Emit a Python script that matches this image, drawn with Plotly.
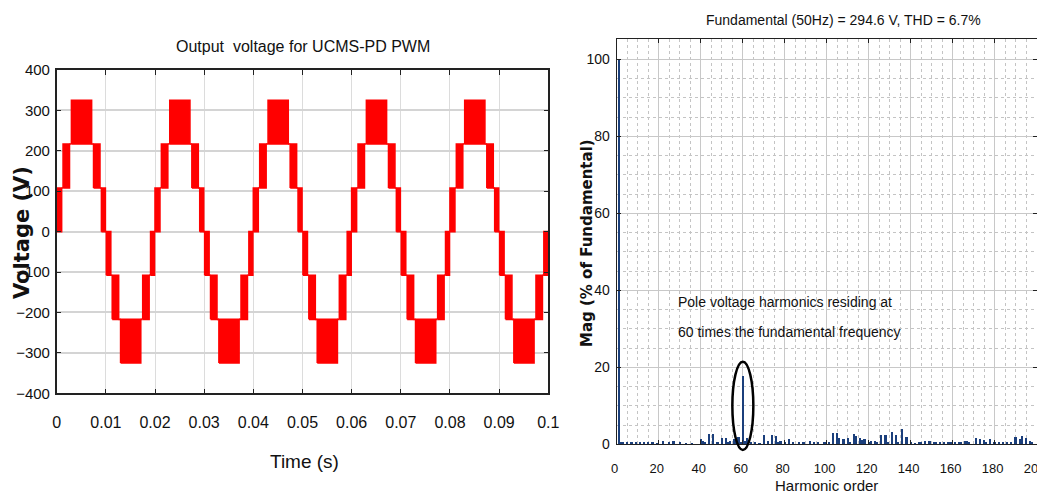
import plotly.graph_objects as go

# ---------------- data: left panel (one period of the output voltage)
seg_start = [0.0000, 0.0010, 0.0013, 0.0026, 0.0030, 0.0071, 0.0075, 0.0088, 0.0091, 0.0099,
             0.0101, 0.0110, 0.0113, 0.0126, 0.0130, 0.0171, 0.0175, 0.0188, 0.0191, 0.0199]
seg_end = [0.0010, 0.0013, 0.0026, 0.0030, 0.0071, 0.0075, 0.0088, 0.0091, 0.0099, 0.0101,
           0.0110, 0.0113, 0.0126, 0.0130, 0.0171, 0.0175, 0.0188, 0.0191, 0.0199, 0.0200]
seg_low = [0, 108, 108, 217, 217, 217, 108, 108, 0, 0,
           -108, -108, -217, -217, -325, -217, -217, -108, -108, 0]
seg_high = [108, 108, 217, 217, 325, 217, 217, 108, 108, 0,
            0, -108, -108, -217, -217, -217, -108, -108, 0, 0]
cycle_start = [0.00, 0.02, 0.04, 0.06, 0.08]

time_ticks = [0, 0.01, 0.02, 0.03, 0.04, 0.05, 0.06, 0.07, 0.08, 0.09, 0.1]
time_labels = ["0", "0.01", "0.02", "0.03", "0.04", "0.05", "0.06", "0.07", "0.08", "0.09", "0.1"]
volt_ticks = [-400, -300, -200, -100, 0, 100, 200, 300, 400]

# ---------------- data: right panel (harmonic spectrum, % of fundamental)
harm_order = [1, 2, 3, 5, 7, 9, 11, 13, 15, 17, 19, 22, 25, 27, 30, 33, 36,
              40, 41, 42, 44, 46, 48, 50, 52, 53, 54, 56, 57, 58, 59, 60,
              61, 62, 64, 66, 68, 70, 72, 74, 76, 77, 78, 80, 82, 84, 87, 89, 92, 94, 96, 99, 101,
              103, 105, 106, 108, 110, 111, 113, 114, 116, 117, 118, 120, 121, 123, 124, 126, 128,
              129, 131, 133, 134, 136, 138,
              140, 142, 144, 145, 147, 149, 151, 152, 154, 156, 158, 159, 161, 163, 164, 166, 167,
              168, 171, 173, 175, 176, 178, 180, 182, 184, 186, 188, 190, 192, 193, 195, 197, 198]
harm_mag = [100, 0.3, 0.4, 0.3, 0.5, 0.4, 0.4, 0.3, 0.4, 0.3, 0.2, 0.8, 0.3, 0.8, 0.3, 0.2, 0.2,
            1.2, 0.8, 0.6, 2.5, 2.7, 0.3, 1.6, 1.5, 0.6, 0.8, 1.2, 1.5, 1.8, 0.6, 17.6,
            0.8, 1.6, 0.6, 0.3, 0.2, 2.3, 0.9, 2.3, 2.1, 0.6, 0.8, 0.5, 1.2, 0.3, 0.5, 0.3, 0.9, 0.3, 0.3, 0.4, 0.3,
            2.9, 2.8, 1.6, 1.4, 1.5, 0.6, 2.5, 2.0, 1.6, 1.0, 1.2, 0.3, 0.7, 0.8, 0.4, 2.4, 2.3,
            0.5, 3.0, 2.4, 0.5, 3.8, 1.8,
            0.3, 0.2, 0.3, 0.5, 0.8, 0.8, 0.5, 0.6, 0.6, 0.3, 0.6, 0.6, 0.4, 0.4, 0.5, 0.7, 0.8,
            0.6, 1.5, 1.2, 1.0, 0.6, 1.3, 0.3, 0.3, 0.4, 0.3, 0.3, 1.8, 1.2, 2.0, 1.6, 0.9, 0.3]
harm_ticks = [0, 20, 40, 60, 80, 100, 120, 140, 160, 180, 200]
mag_ticks = [0, 20, 40, 60, 80, 100]

NARROW = "Liberation Sans, Arial, sans-serif"
BOLD = "DejaVu Sans, Arial, sans-serif"

# page places the figure 8px in from the top-left corner
OFF = 8
W, H = 1045 - OFF, 497 - OFF


def px(X):
    return (X - OFF) / W


def py(Y):
    return 1 - (Y - OFF) / H


# build the PWM band path from the segments
wx, wy = [], []
for c in cycle_start:
    for t0, t1, lo, hi in zip(seg_start, seg_end, seg_low, seg_high):
        if lo == hi:
            wx += [c + t0, c + t1, None]
            wy += [lo, lo, None]
        else:
            wx += [c + t0, c + t0, c + t1, c + t1, c + t0, None]
            wy += [lo, hi, hi, lo, lo, None]

fig = go.Figure()
fig.add_trace(go.Scatter(x=wx, y=wy, mode="lines", fill="toself", fillcolor="#ff0000",
                         line=dict(color="#ff0000", width=1.6), xaxis="x", yaxis="y",
                         showlegend=False, hoverinfo="skip"))
fig.add_trace(go.Bar(x=harm_order, y=harm_mag, width=0.8, marker=dict(color="#1b3f7c", line=dict(width=0)),
                     xaxis="x2", yaxis="y2", showlegend=False))

common = dict(automargin=False, ticks="inside", tickcolor="#222", mirror="ticks",
              showline=True, linecolor="#222", zeroline=False, showgrid=True,
              ticklabeloverflow="allow")

fig.update_layout(
    width=W, height=H, margin=dict(l=0, r=0, t=0, b=0, pad=0), autosize=False,
    paper_bgcolor="white", plot_bgcolor="white", bargap=0,
    xaxis=dict(domain=[px(56.7), px(548.3)], range=[0, 0.1], anchor="y",
               tickmode="array", tickvals=time_ticks, ticktext=time_labels,
               ticklen=5, linewidth=1.5, gridcolor="#dcdcdc", gridwidth=1,
               tickfont=dict(family=NARROW, size=16, color="#111"), ticklabelstandoff=14, **common),
    yaxis=dict(domain=[py(393.3), py(70)], range=[-400, 400], anchor="x",
               tickmode="array", tickvals=volt_ticks,
               ticklen=5, linewidth=1.5, gridcolor="#d4d4d4", gridwidth=2,
               tickfont=dict(family=NARROW, size=15, color="#111"), ticklabelstandoff=2, **common),
    xaxis2=dict(domain=[px(616.7), px(1036.5)], range=[0, 200], anchor="y2",
                tickmode="array", tickvals=harm_ticks,
                ticklen=4, linewidth=1, gridcolor="#c8c8c8", gridwidth=1,
                minor=dict(dtick=5, showgrid=True, griddash="dot", gridcolor="#c4c4c4", gridwidth=1),
                tickfont=dict(family=NARROW, size=13, color="#111"), ticklabelstandoff=12,
                ticklabelshift=-2, **common),
    yaxis2=dict(domain=[py(444.3), py(39.3)], range=[0, 105.2], anchor="x2",
                tickmode="array", tickvals=mag_ticks,
                ticklen=4, linewidth=1, gridcolor="#c8c8c8", gridwidth=1,
                minor=dict(dtick=5, showgrid=True, griddash="dot", gridcolor="#c4c4c4", gridwidth=1),
                tickfont=dict(family=NARROW, size=14, color="#111"), ticklabelstandoff=3, **common),
)

ann = [
    dict(text="Output  voltage for UCMS-PD PWM", x=px(303), y=py(46),
         font=dict(family=NARROW, size=16, color="#111")),
    dict(text="Time (s)", x=px(304), y=py(461),
         font=dict(family=NARROW, size=19, color="#111")),
    dict(text="<b>Voltage (V)</b>", x=px(22), y=py(233), textangle=-90,
         font=dict(family=BOLD, size=21, color="#111")),
    dict(text="Fundamental (50Hz) = 294.6 V, THD = 6.7%", x=px(843), y=py(20),
         font=dict(family=NARROW, size=14, color="#111")),
    dict(text="Harmonic order", x=px(826), y=py(485),
         font=dict(family=NARROW, size=15, color="#111")),
    dict(text="<b>Mag (% of Fundamental)</b>", x=px(587), y=py(243), textangle=-90,
         font=dict(family=BOLD, size=15, color="#111")),
]
for a in ann:
    a.update(xref="paper", yref="paper", showarrow=False, xanchor="center", yanchor="middle")
    fig.add_annotation(**a)

fig.add_annotation(text="Pole voltage harmonics residing at", x=28.4, y=37.0, xref="x2", yref="y2",
                   xanchor="left", yanchor="middle", showarrow=False,
                   font=dict(family=NARROW, size=14, color="#111"))
fig.add_annotation(text="60 times the fundamental frequency", x=28.4, y=29.2, xref="x2", yref="y2",
                   xanchor="left", yanchor="middle", showarrow=False,
                   font=dict(family=NARROW, size=14, color="#111"))

fig.add_shape(type="circle", xref="x2", yref="paper", x0=55.1, x1=65.1,
              y0=py(450), y1=py(361.7), line=dict(color="#000", width=2.5))

fig.write_html("out.html")
